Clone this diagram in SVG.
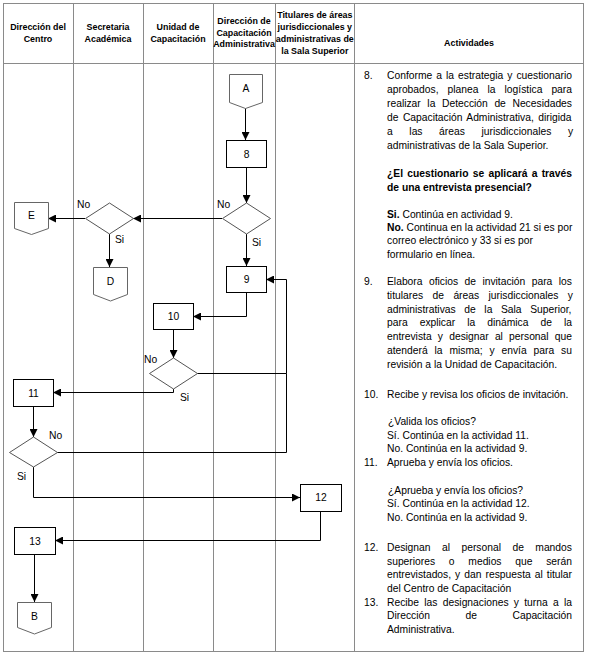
<svg xmlns="http://www.w3.org/2000/svg" width="590" height="657" viewBox="0 0 590 657">
<style>
.grid{stroke:#8a8a8a;stroke-width:1;fill:none}
.box{fill:#fff;stroke:#000;stroke-width:1}
.off{fill:#fff;stroke:#666;stroke-width:1}
.dia{fill:#fff;stroke:#555;stroke-width:1}
.edge{stroke:#000;stroke-width:1;fill:none}
.arr{marker-end:url(#ah)}
text{font-family:"Liberation Sans",Arial,sans-serif;fill:#000}
.hd{font-size:8.9px;font-weight:bold;text-anchor:middle}
.lb{font-size:10.3px;text-anchor:middle}
.yn{font-size:10.3px}
.tx{font-size:10.3px}
.b{font-weight:bold}
</style>
<defs>
<marker id="ah" markerUnits="userSpaceOnUse" markerWidth="8" markerHeight="8" refX="8" refY="4" orient="auto">
<path d="M0,0 L8,4 L0,8 z" fill="#000"/>
</marker>
</defs>
<rect width="590" height="657" fill="#fff"/>
<g id="table">
<rect class="grid" x="3.5" y="3.5" width="580" height="648"/>
<line class="grid" x1="3.5" y1="63.5" x2="583.5" y2="63.5"/>
<line class="grid" x1="73.5" y1="3.5" x2="73.5" y2="651.5"/>
<line class="grid" x1="143.5" y1="3.5" x2="143.5" y2="651.5"/>
<line class="grid" x1="213.5" y1="3.5" x2="213.5" y2="651.5"/>
<line class="grid" x1="275.5" y1="3.5" x2="275.5" y2="651.5"/>
<line class="grid" x1="354.5" y1="3.5" x2="354.5" y2="651.5"/>
</g>
<g id="headers">
<text class="hd" x="38" y="29.5">Dirección del</text>
<text class="hd" x="38" y="41.5">Centro</text>
<text class="hd" x="108" y="29.5">Secretaria</text>
<text class="hd" x="108" y="41.5">Académica</text>
<text class="hd" x="178" y="29.5">Unidad de</text>
<text class="hd" x="178" y="41.5">Capacitación</text>
<text class="hd" x="244" y="24">Dirección de</text>
<text class="hd" x="244" y="35.7">Capacitación</text>
<text class="hd" x="244" y="47.4">Administrativa</text>
<text class="hd" x="314.8" y="18.4">Titulares de áreas</text>
<text class="hd" x="314.8" y="30.1">jurisdiccionales y</text>
<text class="hd" x="314.8" y="41.8">administrativas de</text>
<text class="hd" x="314.8" y="53.5">la Sala Superior</text>
<text class="hd" x="469" y="46">Actividades</text>
</g>
<g id="connectors">
<path class="edge arr" d="M245.5,108 V140"/>
<path class="edge arr" d="M246.5,167 V203"/>
<path class="edge arr" d="M222,218.5 H133"/>
<path class="edge arr" d="M85,218.5 H48"/>
<path class="edge arr" d="M109.5,234 V267"/>
<path class="edge arr" d="M246.5,234 V266"/>
<path class="edge arr" d="M246.5,292 V316.5 H193"/>
<path class="edge arr" d="M173.5,329 V358"/>
<path class="edge arr" d="M197,373.5 H286.5 V279.5 H266"/>
<path class="edge arr" d="M173.5,389 V392.5 H53"/>
<path class="edge arr" d="M33.5,406 V437"/>
<path class="edge" d="M57,452.5 H286.5 V373.5"/>
<path class="edge arr" d="M33.5,467 V497.5 H300"/>
<path class="edge arr" d="M320.5,511 V540.5 H55"/>
<path class="edge arr" d="M34.5,554 V602"/>
</g>
<g id="node-A"><polygon class="off" points="229.5,74.5 262.5,74.5 262.5,102.5 245.5,108.5 229.5,102.5"/><text class="lb" x="246" y="92">A</text></g>
<g id="node-8"><rect class="box" x="226.5" y="140.5" width="40" height="27"/><text class="lb" x="246.5" y="157.5">8</text></g>
<g id="node-d1"><polygon class="dia" points="246.5,203 270.5,218.5 246.5,234 222.5,218.5"/></g>
<g id="node-d2"><polygon class="dia" points="109.5,203 133.5,218.5 109.5,234 85.5,218.5"/></g>
<g id="node-E"><polygon class="off" points="14.5,202.5 48.5,202.5 48.5,228.5 31.5,234.5 14.5,228.5"/><text class="lb" x="31.5" y="219">E</text></g>
<g id="node-D"><polygon class="off" points="93.5,267.5 127.5,267.5 127.5,294.5 110.5,301 93.5,294.5"/><text class="lb" x="110.5" y="285">D</text></g>
<g id="node-9"><rect class="box" x="226.5" y="266.5" width="40" height="26"/><text class="lb" x="246.5" y="283">9</text></g>
<g id="node-10"><rect class="box" x="153.5" y="303.5" width="40" height="26"/><text class="lb" x="173.5" y="320">10</text></g>
<g id="node-d3"><polygon class="dia" points="173.5,358 197.5,373.5 173.5,389 149.5,373.5"/></g>
<g id="node-11"><rect class="box" x="13.5" y="379.5" width="40" height="27"/><text class="lb" x="33.5" y="396.5">11</text></g>
<g id="node-d4"><polygon class="dia" points="33.5,437 57.5,452.5 33.5,467 9.5,452.5"/></g>
<g id="node-12"><rect class="box" x="300.5" y="484.5" width="41" height="27"/><text class="lb" x="321" y="501">12</text></g>
<g id="node-13"><rect class="box" x="14.5" y="527.5" width="41" height="27"/><text class="lb" x="35" y="544.5">13</text></g>
<g id="node-B"><polygon class="off" points="17.5,602.5 51.5,602.5 51.5,627.5 34.5,634 17.5,627.5"/><text class="lb" x="34.5" y="619.5">B</text></g>
<g id="edge-labels">
<text class="yn" x="217" y="207.5">No</text>
<text class="yn" x="77" y="208">No</text>
<text class="yn" x="115" y="243">Si</text>
<text class="yn" x="252" y="246">Si</text>
<text class="yn" x="144" y="362.5">No</text>
<text class="yn" x="180" y="401">Si</text>
<text class="yn" x="49" y="439">No</text>
<text class="yn" x="17" y="480">Si</text>
</g>
<g id="activities" class="tx">
<text class="tx" x="364" y="78.5">8.</text>
<text class="tx" x="387" y="78.5" word-spacing="1.16">Conforme a la estrategia y cuestionario</text>
<text class="tx" x="387" y="92.5" word-spacing="6.18">aprobados, planea la logística para</text>
<text class="tx" x="387" y="106.5" word-spacing="3.75">realizar la Detección de Necesidades</text>
<text class="tx" x="387" y="120.5" word-spacing="1.57">de Capacitación Administrativa, dirigida</text>
<text class="tx" x="387" y="134.5" word-spacing="13.75">a las áreas jurisdiccionales y</text>
<text class="tx" x="387" y="148.5">administrativas de la Sala Superior.</text>
<text class="tx b" x="387" y="176.5" word-spacing="1.4">¿El cuestionario se aplicará a través</text>
<text class="tx b" x="387" y="190.5">de una entrevista presencial?</text>
<text class="tx" x="387" y="217.5"><tspan class="b">Si.</tspan> Continúa en actividad 9.</text>
<text class="tx" x="387" y="231"><tspan class="b">No.</tspan> Continua en la actividad 21 si es por</text>
<text class="tx" x="387" y="244">correo electrónico y 33 si es por</text>
<text class="tx" x="387" y="257.5">formulario en línea.</text>
<text class="tx" x="364" y="285">9.</text>
<text class="tx" x="387" y="285" word-spacing="3.56">Elabora oficios de invitación para los</text>
<text class="tx" x="387" y="298.5" word-spacing="6.58">titulares de áreas jurisdiccionales y</text>
<text class="tx" x="387" y="312.5" word-spacing="5.75">administrativas de la Sala Superior,</text>
<text class="tx" x="387" y="326" word-spacing="9.18">para explicar la dinámica de la</text>
<text class="tx" x="387" y="340" word-spacing="3.34">entrevista y designar al personal que</text>
<text class="tx" x="387" y="353.5" word-spacing="4.02">atenderá la misma; y envía para su</text>
<text class="tx" x="387" y="367.5">revisión a la Unidad de Capacitación.</text>
<text class="tx" x="364" y="398">10.</text>
<text class="tx" x="387" y="398">Recibe y revisa los oficios de invitación.</text>
<text class="tx" x="388" y="425">¿Valida los oficios?</text>
<text class="tx" x="387" y="438.5">Sí. Continúa en la actividad 11.</text>
<text class="tx" x="387" y="452">No. Continúa en la actividad 9.</text>
<text class="tx" x="364" y="465.5">11.</text>
<text class="tx" x="387" y="465.5">Aprueba y envía los oficios.</text>
<text class="tx" x="388" y="493.5">¿Aprueba y envía los oficios?</text>
<text class="tx" x="387" y="507">Sí. Continúa en la actividad 12.</text>
<text class="tx" x="387" y="520.5">No. Continúa en la actividad 9.</text>
<text class="tx" x="364" y="550.5">12.</text>
<text class="tx" x="387" y="550.5" word-spacing="8.6">Designan al personal de mandos</text>
<text class="tx" x="387" y="564.5" word-spacing="10.9">superiores o medios que serán</text>
<text class="tx" x="387" y="578" word-spacing="1.16">entrevistados, y dan respuesta al titular</text>
<text class="tx" x="387" y="591.5">del Centro de Capacitación</text>
<text class="tx" x="364" y="605.5">13.</text>
<text class="tx" x="387" y="605.5" word-spacing="2.4">Recibe las designaciones y turna a la</text>
<text class="tx" x="387" y="619" word-spacing="32.7">Dirección de Capacitación</text>
<text class="tx" x="387" y="633">Administrativa.</text>
</g>
</svg>
